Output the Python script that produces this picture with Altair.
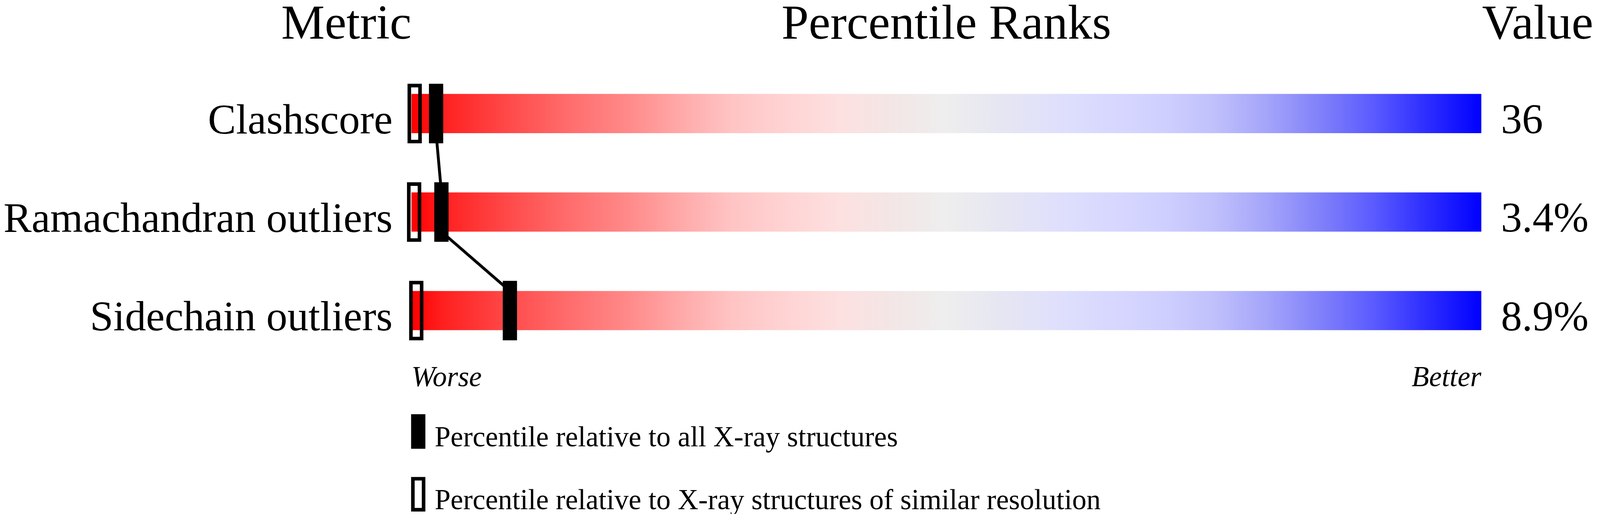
import altair as alt
import pandas as pd

# ---- data ----
metrics = ["Clashscore", "Ramachandran outliers", "Sidechain outliers"]
value_text = ["36", "3.4%", "8.9%"]
pct_all = [2.3, 2.8, 9.2]          # percentile vs all X-ray structures
pct_similar = [0.3, 0.25, 0.45]    # percentile vs similar resolution
legend_labels = ["Percentile relative to all X-ray structures",
                 "Percentile relative to X-ray structures of similar resolution"]
headers = ["Metric", "Percentile Ranks", "Value"]
ends = ["Worse", "Better"]
pct_domain = [0, 100]

FONT = "Liberation Serif"
rows = list(range(len(metrics)))

rows_df = pd.DataFrame({"metric": metrics, "row": rows, "value": value_text,
                        "lo": [pct_domain[0]] * len(rows), "hi": [pct_domain[1]] * len(rows)})
markers_df = pd.DataFrame({
    "row": rows + rows,
    "pct": pct_similar + pct_all,
    "kind": [legend_labels[1]] * len(rows) + [legend_labels[0]] * len(rows),
})
links_df = pd.DataFrame({
    "row": rows[:-1], "row2": rows[1:],
    "pct": pct_all[:-1], "pct2": pct_all[1:],
})

xs = alt.Scale(domain=pct_domain, nice=False, zero=False)
ys = alt.Scale(domain=[rows[0] - 0.5, rows[-1] + 0.5], reverse=True, nice=False, zero=False)

grad = {
    "gradient": "linear", "x1": 0, "x2": 1, "y1": 0, "y2": 0,
    "stops": [
        {"offset": 0.0, "color": "#ff0000"},
        {"offset": 0.03, "color": "#ff2020"},
        {"offset": 0.1, "color": "#ff5050"},
        {"offset": 0.15, "color": "#ff6e6e"},
        {"offset": 0.2, "color": "#ff8888"},
        {"offset": 0.25, "color": "#ffa8a8"},
        {"offset": 0.3, "color": "#ffc4c4"},
        {"offset": 0.35, "color": "#ffd3d3"},
        {"offset": 0.4, "color": "#fde0e0"},
        {"offset": 0.45, "color": "#f3e6e6"},
        {"offset": 0.5, "color": "#eeeeee"},
        {"offset": 0.55, "color": "#e6e6f2"},
        {"offset": 0.6, "color": "#e0e0fc"},
        {"offset": 0.65, "color": "#d8d8ff"},
        {"offset": 0.7, "color": "#d0d0ff"},
        {"offset": 0.75, "color": "#c0c0fc"},
        {"offset": 0.8, "color": "#a4a4fa"},
        {"offset": 0.85, "color": "#8080fa"},
        {"offset": 0.9, "color": "#5a5aff"},
        {"offset": 0.95, "color": "#2c2cff"},
        {"offset": 1.0, "color": "#0000ff"},
    ],
}

BAR_HALF = 55
MARK_HALF = 78.5

base = alt.Chart(rows_df)

bars = base.mark_rect(fill=grad, yOffset=-BAR_HALF, y2Offset=BAR_HALF).encode(
    x=alt.X("lo:Q", scale=xs, axis=None),
    x2="hi:Q",
    y=alt.Y("row:Q", scale=ys, axis=None),
    y2="row:Q",
)

links = alt.Chart(links_df).mark_rule(color="black", strokeWidth=8,
                                      yOffset=BAR_HALF, y2Offset=-BAR_HALF).encode(
    x=alt.X("pct:Q", scale=xs, axis=None),
    x2="pct2:Q",
    y=alt.Y("row:Q", scale=ys, axis=None),
    y2="row2:Q",
)

legend_path = "M-1,-5.7H1V0.1H-1Z"
markers = alt.Chart(markers_df).mark_rect(
    stroke="black", strokeWidth=10, xOffset=-15, x2Offset=15,
    yOffset=-MARK_HALF, y2Offset=MARK_HALF
).encode(
    x=alt.X("pct:Q", scale=xs, axis=None),
    x2="pct:Q",
    y=alt.Y("row:Q", scale=ys, axis=None),
    y2="row:Q",
    fill=alt.Fill("kind:N", scale=alt.Scale(domain=legend_labels, range=["black", "transparent"]),
                  legend=alt.Legend(
                      orient="none", legendX=-21, legendY=1032, direction="vertical",
                      title=None, padding=0, offset=0,
                      symbolType=legend_path, symbolSize=900,
                      symbolStrokeColor="black", symbolStrokeWidth=10, symbolOpacity=1,
                      labelFont=FONT, labelFontSize=80, labelColor="black",
                      labelBaseline="alphabetic", labelOffset=6, labelLimit=0,
                      rowPadding=48)),
)

metric_labels = base.mark_text(font=FONT, fontSize=118, align="right", baseline="alphabetic",
                               dx=-53, dy=56, color="black").encode(
    x=alt.datum(pct_domain[0]), y=alt.Y("row:Q", scale=ys, axis=None), text="metric:N")

value_labels = base.mark_text(font=FONT, fontSize=118, align="left", baseline="alphabetic",
                              dx=55, dy=55, color="black").encode(
    x=alt.datum(pct_domain[1]), y=alt.Y("row:Q", scale=ys, axis=None), text="value:N")

def header(txt, xval, align, dx):
    return alt.Chart(pd.DataFrame({"t": [txt]})).mark_text(
        font=FONT, fontSize=137, align=align, baseline="alphabetic", dx=dx, dy=-72,
        color="black").encode(x=alt.datum(xval), y=alt.datum(rows[0] - 0.5), text="t:N")

def end_label(txt, xval, align):
    return alt.Chart(pd.DataFrame({"t": [txt]})).mark_text(
        font=FONT, fontSize=80, fontStyle="italic", align=align, baseline="alphabetic",
        dy=74, color="black").encode(x=alt.datum(xval), y=alt.datum(rows[-1] + 0.5), text="t:N")

h1 = header(headers[0], pct_domain[0], "right", 0)
h2 = header(headers[1], (pct_domain[0] + pct_domain[1]) / 2, "center", 0)
h3 = header(headers[2], pct_domain[1], "left", 2)
e1 = end_label(ends[0], pct_domain[0], "left")
e2 = end_label(ends[1], pct_domain[1], "right")

chart = alt.layer(bars, links, markers, metric_labels, value_labels, h1, h2, h3, e1, e2).properties(
    width=3000, height=829, autosize=alt.AutoSizeParams(type="none"),
    padding={"left": 1145, "top": 109.25, "right": 324, "bottom": 369.75},
).configure_view(stroke=None)

chart.save("out.html", embed_options={"renderer": "svg", "actions": False})
